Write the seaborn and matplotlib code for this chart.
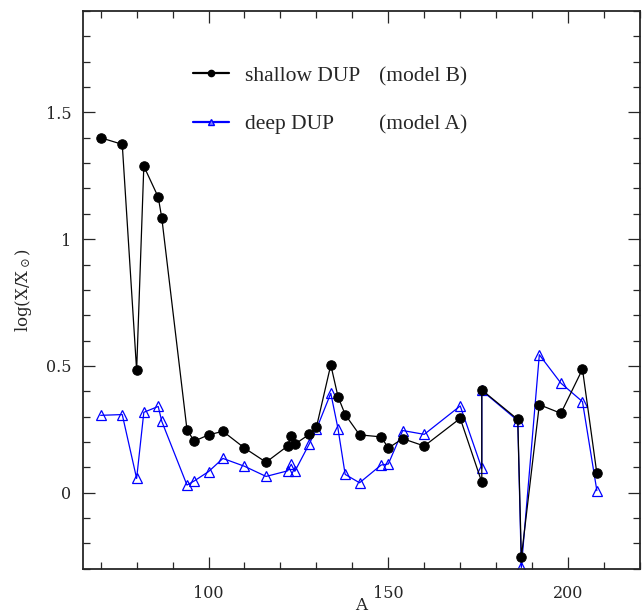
import matplotlib
matplotlib.use("Agg")
import matplotlib.pyplot as plt
import seaborn as sns
import pandas as pd
from matplotlib.lines import Line2D
from matplotlib.ticker import MultipleLocator

# ---- data ----
mass_number = [70, 76, 80, 82, 86, 87, 94, 96, 100, 104, 110, 116, 122, 123, 124,
               128, 130, 134, 136, 138, 142, 148, 150, 154, 160, 170, 176, 176,
               186, 187, 192, 198, 204, 208]
shallow_B = [1.400, 1.374, 0.482, 1.288, 1.166, 1.083, 0.249, 0.203, 0.228, 0.242,
             0.176, 0.120, 0.184, 0.224, 0.191, 0.230, 0.258, 0.504, 0.379, 0.308,
             0.228, 0.220, 0.176, 0.213, 0.184, 0.293, 0.041, 0.405, 0.289, -0.255,
             0.347, 0.313, 0.487, 0.076]
deep_A = [0.305, 0.308, 0.056, 0.317, 0.340, 0.281, 0.030, 0.046, 0.083, 0.135,
          0.104, 0.064, 0.086, 0.112, 0.084, 0.192, 0.250, 0.392, 0.253, 0.072,
          0.039, 0.109, 0.113, 0.245, 0.230, 0.342, 0.096, 0.403, 0.284, -0.295,
          0.544, 0.432, 0.359, 0.008]
legend_labels = ["shallow DUP", "deep DUP"]
model_labels = ["(model B)", "(model A)"]

sns.set_style("ticks")
plt.rcParams["font.family"] = ["DejaVu Serif"]
plt.rcParams["mathtext.fontset"] = "dejavuserif"

df_b = pd.DataFrame({"A": mass_number, "val": shallow_B})
df_a = pd.DataFrame({"A": mass_number, "val": deep_A})

fig = plt.figure(figsize=(6.42, 6.15), dpi=100)
ax = fig.add_axes([82.7 / 642, 1 - 568.7 / 615, (640 - 82.7) / 642, (568.7 - 11) / 615])

sns.lineplot(data=df_a, x="A", y="val", ax=ax, estimator=None, sort=False,
             color="#0000ff", lw=0.9, marker="^", markersize=6.5,
             markerfacecolor="none", markeredgecolor="#0000ff", markeredgewidth=0.9)
sns.lineplot(data=df_b, x="A", y="val", ax=ax, estimator=None, sort=False,
             color="black", lw=0.9, marker="o", markersize=6.8,
             markerfacecolor="black", markeredgecolor="black")

ax.set_xlim(65, 220)
ax.set_ylim(-0.3, 1.9)
ax.xaxis.set_major_locator(MultipleLocator(50))
ax.xaxis.set_minor_locator(MultipleLocator(10))
ax.yaxis.set_major_locator(MultipleLocator(0.5))
ax.yaxis.set_minor_locator(MultipleLocator(0.1))
ax.set_yticks([0, 0.5, 1, 1.5])
ax.set_yticklabels(["0", "0.5", "1", "1.5"])
ax.set_xticks([100, 150, 200])
ax.set_xticklabels(["100", "150", "200"])

ax.tick_params(which="both", direction="in", top=True, right=True, width=0.9)
ax.tick_params(which="major", length=8.6, labelsize=11.5, pad=8)
ax.tick_params(axis="x", which="major", pad=12)
ax.tick_params(which="minor", length=4.8)
for s in ax.spines.values():
    s.set_linewidth(1.3)

ax.set_xlabel("A", fontsize=12)
ax.set_ylabel(r"log(X/X$_\odot$)", fontsize=12)
ax.xaxis.set_label_coords(0.5, -0.05)
ax.yaxis.set_label_coords(-0.087, 0.5)

handles = [Line2D([], [], color="black", lw=1.6, marker="o", markersize=4.5),
           Line2D([], [], color="#0000ff", lw=1.6, marker="^", markersize=4.5,
                  markerfacecolor="#8080ff")]
leg = ax.legend(handles, legend_labels, loc="center left",
                bbox_to_anchor=(192.7 / 642, 1 - 100 / 615),
                bbox_transform=fig.transFigure, frameon=False,
                prop={"family": "Liberation Serif", "size": 15.5},
                handlelength=1.68, handletextpad=0.74, labelspacing=1.3,
                borderpad=0, borderaxespad=0)

fig.canvas.draw()
renderer = fig.canvas.get_renderer()
for t, txt in zip(leg.get_texts(), model_labels):
    bb = t.get_window_extent(renderer).transformed(fig.transFigure.inverted())
    fig.text(379 / 642, bb.y0, txt, family="Liberation Serif", fontsize=15.5,
             va="bottom", ha="left")

fig.savefig("out.png", dpi=100)
